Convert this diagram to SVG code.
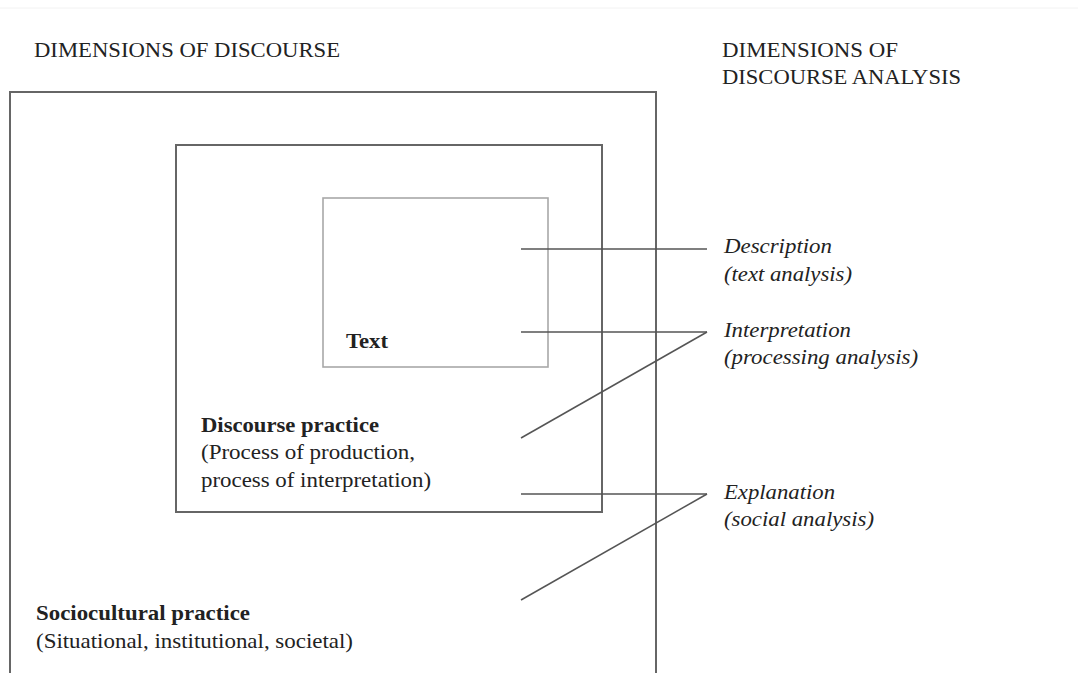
<svg xmlns="http://www.w3.org/2000/svg" width="1078" height="673" viewBox="0 0 1078 673">
<style>
.t{font-family:"Liberation Serif","Times New Roman",serif;fill:#222;}
.title{font-size:21px;}
.b{font-size:22px;font-weight:bold;}
.r{font-size:22px;}
.i{font-size:22px;font-style:italic;}
.box{fill:none;stroke:#666;stroke-width:2;}
.inner{fill:none;stroke:#a8a8a8;stroke-width:1.6;}
.con{fill:none;stroke:#555;stroke-width:1.5;}
</style>
<rect x="0" y="0" width="1078" height="673" fill="#ffffff"/>
<line x1="0" y1="8" x2="1078" y2="8" stroke="#f2f2f2" stroke-width="1"/>
<g id="titles">
<text class="t title" x="34" y="57" textLength="306" lengthAdjust="spacingAndGlyphs">DIMENSIONS OF DISCOURSE</text>
<text class="t title" x="722" y="57" textLength="176" lengthAdjust="spacingAndGlyphs">DIMENSIONS OF</text>
<text class="t title" x="722" y="84" textLength="239" lengthAdjust="spacingAndGlyphs">DISCOURSE ANALYSIS</text>
</g>
<g id="sociocultural">
<path class="box" d="M10,680 V92 H656 V680"/>
<text class="t b" x="36" y="620" textLength="214" lengthAdjust="spacingAndGlyphs">Sociocultural practice</text>
<text class="t r" x="36" y="648" textLength="317" lengthAdjust="spacingAndGlyphs">(Situational, institutional, societal)</text>
</g>
<g id="discourse">
<rect class="box" x="176" y="145" width="426" height="367"/>
<text class="t b" x="201" y="432" textLength="178" lengthAdjust="spacingAndGlyphs">Discourse practice</text>
<text class="t r" x="201" y="459" textLength="214" lengthAdjust="spacingAndGlyphs">(Process of production,</text>
<text class="t r" x="201" y="487" textLength="230" lengthAdjust="spacingAndGlyphs">process of interpretation)</text>
</g>
<g id="text">
<rect class="inner" x="323" y="198" width="225" height="169"/>
<text class="t b" x="346" y="348" textLength="42" lengthAdjust="spacingAndGlyphs">Text</text>
</g>
<g id="connectors">
<line class="con" x1="521" y1="249" x2="707" y2="249"/>
<line class="con" x1="521" y1="332" x2="707" y2="332"/>
<line class="con" x1="521" y1="438" x2="707" y2="332"/>
<line class="con" x1="521" y1="494" x2="707" y2="494"/>
<line class="con" x1="521" y1="600" x2="707" y2="494"/>
</g>
<g id="description">
<text class="t i" x="724" y="253" textLength="108" lengthAdjust="spacingAndGlyphs">Description</text>
<text class="t i" x="724" y="281" textLength="128" lengthAdjust="spacingAndGlyphs">(text analysis)</text>
</g>
<g id="interpretation">
<text class="t i" x="724" y="337" textLength="127" lengthAdjust="spacingAndGlyphs">Interpretation</text>
<text class="t i" x="724" y="364" textLength="194" lengthAdjust="spacingAndGlyphs">(processing analysis)</text>
</g>
<g id="explanation">
<text class="t i" x="724" y="499" textLength="111" lengthAdjust="spacingAndGlyphs">Explanation</text>
<text class="t i" x="724" y="526" textLength="150" lengthAdjust="spacingAndGlyphs">(social analysis)</text>
</g>
</svg>
